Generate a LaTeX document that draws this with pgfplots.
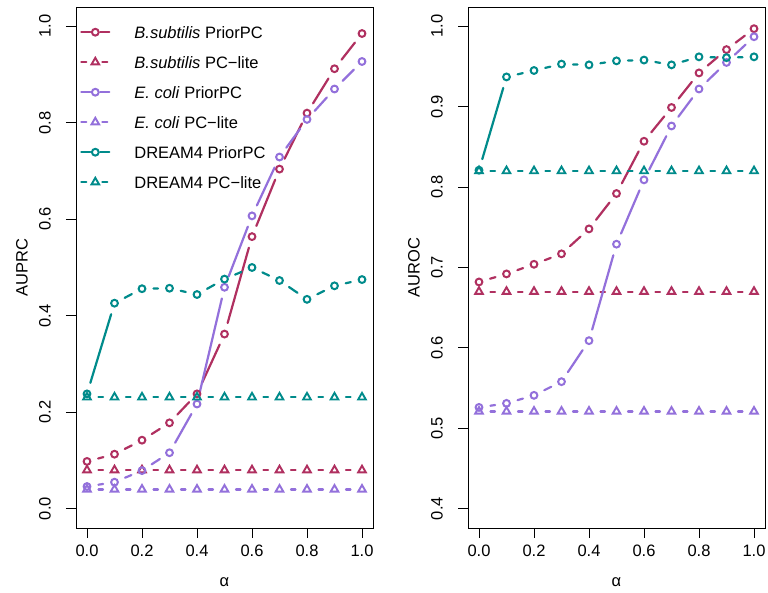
\documentclass[border=0pt]{standalone}
\usepackage{fontspec}
\setmainfont{Liberation Sans}
\usepackage{pgfplots}
\pgfplotsset{compat=1.18}
\usepackage{pgfplotstable}
\usetikzlibrary{decorations.pathreplacing,calc}

\definecolor{bsub}{HTML}{B03060}
\definecolor{ecoli}{HTML}{9370DB}
\definecolor{dream}{HTML}{008B8B}

\newcommand\lbl{\fontsize{16.5}{19}\selectfont}

% R type="b": each segment stops short of the two points it joins
\tikzset{gapline/.style={decorate, decoration={show path construction,
  lineto code={\draw[#1]
    ($(\tikzinputsegmentfirst)!11.5pt!(\tikzinputsegmentlast)$) --
    ($(\tikzinputsegmentlast)!11.5pt!(\tikzinputsegmentfirst)$);}}}}

\pgfplotsset{
  rpanel/.style={
    scale only axis, width=297pt, height=521pt,
    xmin=-0.04, xmax=1.04,
    xtick={0,0.2,0.4,0.6,0.8,1},
    xtick pos=bottom, ytick pos=left,
    tick align=outside, major tick length=10pt,
    axis line style={line width=0.9pt},
    every tick/.style={black, line width=0.9pt},
    scaled ticks=false,
    /pgf/number format/assume math mode=true,
    /pgf/number format/fixed, /pgf/number format/fixed zerofill,
    /pgf/number format/precision=1,
    tick label style={font=\lbl},
    xticklabel style={anchor=center},
    yticklabel style={rotate=90, anchor=center},
    xticklabel shift=13pt, yticklabel shift=21pt,
    every axis x label/.style={at={(axis description cs:0.5,-0.1036)}, anchor=center, font=\lbl},
    every axis y label/.style={at={(axis description cs:-0.182,0.5)}, rotate=90, anchor=center, font=\lbl},
    xlabel={α},
  },
  pline/.style={forget plot, no markers, gapline={#1, line width=2.2pt, line cap=round}},
  lline/.style={forget plot, no markers, gapline={#1, line width=2.2pt, line cap=round, dash pattern=on 8pt off 8pt}},
  pmark/.style={#1, forget plot, only marks, mark=o, mark size=3.4pt, mark options={line width=2pt}},
  tmark/.style={#1, forget plot, only marks, mark=triangle, mark size=4.4pt, mark options={line width=1.9pt}},
  priorleg/.style={#1, line width=2.2pt, line cap=round, mark=o, mark size=3.4pt,
    mark options={solid, line width=2pt},
    legend image code/.code={\draw[mark=none] (1pt,0pt) -- (10pt,0pt);
      \draw[mark=none] (20pt,0pt) -- (29pt,0pt);
      \draw plot coordinates {(15pt,0pt)};}},
  liteleg/.style={#1, line width=2.2pt, line cap=round, mark=triangle, mark size=4.4pt,
    mark options={solid, line width=1.9pt},
    legend image code/.code={\draw[mark=none] (1pt,0pt) -- (6pt,0pt);
      \draw[mark=none] (22pt,0pt) -- (27pt,0pt);
      \draw plot coordinates {(15pt,0pt)};}},
}

\pgfplotstableread{
x    bsp    bsl   ecp    ecl   dp     dl
0.0  0.098  0.08  0.046  0.04  0.238  0.231
0.1  0.113  0.08  0.055  0.04  0.426  0.231
0.2  0.142  0.08  0.079  0.04  0.456  0.231
0.3  0.178  0.08  0.116  0.04  0.457  0.231
0.4  0.238  0.08  0.217  0.04  0.444  0.231
0.5  0.362  0.08  0.459  0.04  0.476  0.231
0.6  0.564  0.08  0.607  0.04  0.500  0.231
0.7  0.704  0.08  0.729  0.04  0.473  0.231
0.8  0.820  0.08  0.807  0.04  0.434  0.231
0.9  0.912  0.08  0.870  0.04  0.462  0.231
1.0  0.985  0.08  0.927  0.04  0.475  0.231
}\auprc

\pgfplotstableread{
x    bsp    bsl    ecp    ecl    dp     dl
0.0  0.682  0.670  0.526  0.521  0.821  0.820
0.1  0.692  0.670  0.531  0.521  0.937  0.820
0.2  0.704  0.670  0.541  0.521  0.945  0.820
0.3  0.717  0.670  0.558  0.521  0.953  0.820
0.4  0.748  0.670  0.609  0.521  0.952  0.820
0.5  0.792  0.670  0.729  0.521  0.957  0.820
0.6  0.857  0.670  0.809  0.521  0.958  0.820
0.7  0.899  0.670  0.876  0.521  0.952  0.820
0.8  0.942  0.670  0.922  0.521  0.962  0.820
0.9  0.971  0.670  0.955  0.521  0.961  0.820
1.0  0.997  0.670  0.987  0.521  0.962  0.820
}\auroc

\begin{document}
\begin{tikzpicture}
\useasboundingbox (-76pt,-65pt) rectangle (692pt,528pt);

\begin{axis}[rpanel, at={(0pt,0pt)},
  ymin=-0.04, ymax=1.04, ytick={0,0.2,0.4,0.6,0.8,1},
  ylabel={AUPRC},
  legend cell align=left,
  legend style={draw=none, fill=none, inner sep=0pt, row sep=18pt, column sep=24pt,
    at={(axis description cs:0.0135,0.9635)}, anchor=north west,
    nodes={inner sep=0pt, text height=12pt, text depth=0pt, font=\lbl}},
]
\addplot[pline=bsub] table[x=x, y=bsp] {\auprc};
\addplot[pmark=bsub] table[x=x, y=bsp] {\auprc};
\addplot[lline=bsub] table[x=x, y=bsl] {\auprc};
\addplot[tmark=bsub] table[x=x, y=bsl] {\auprc};
\addplot[pline=ecoli] table[x=x, y=ecp] {\auprc};
\addplot[pmark=ecoli] table[x=x, y=ecp] {\auprc};
\addplot[lline=ecoli] table[x=x, y=ecl] {\auprc};
\addplot[tmark=ecoli] table[x=x, y=ecl] {\auprc};
\addplot[pline=dream] table[x=x, y=dp] {\auprc};
\addplot[pmark=dream] table[x=x, y=dp] {\auprc};
\addplot[lline=dream] table[x=x, y=dl] {\auprc};
\addplot[tmark=dream] table[x=x, y=dl] {\auprc};

\addlegendimage{priorleg=bsub}
\addlegendentry{\textit{B.subtilis} PriorPC}
\addlegendimage{liteleg=bsub}
\addlegendentry{\textit{B.subtilis} PC−lite}
\addlegendimage{priorleg=ecoli}
\addlegendentry{\textit{E. coli} PriorPC}
\addlegendimage{liteleg=ecoli}
\addlegendentry{\textit{E. coli} PC−lite}
\addlegendimage{priorleg=dream}
\addlegendentry{DREAM4 PriorPC}
\addlegendimage{liteleg=dream}
\addlegendentry{DREAM4 PC−lite}
\end{axis}

\begin{axis}[rpanel, at={(392pt,0pt)},
  ymin=0.376, ymax=1.024, ytick={0.4,0.5,0.6,0.7,0.8,0.9,1},
  ylabel={AUROC},
]
\addplot[pline=bsub] table[x=x, y=bsp] {\auroc};
\addplot[pmark=bsub] table[x=x, y=bsp] {\auroc};
\addplot[lline=bsub] table[x=x, y=bsl] {\auroc};
\addplot[tmark=bsub] table[x=x, y=bsl] {\auroc};
\addplot[pline=ecoli] table[x=x, y=ecp] {\auroc};
\addplot[pmark=ecoli] table[x=x, y=ecp] {\auroc};
\addplot[lline=ecoli] table[x=x, y=ecl] {\auroc};
\addplot[tmark=ecoli] table[x=x, y=ecl] {\auroc};
\addplot[pline=dream] table[x=x, y=dp] {\auroc};
\addplot[pmark=dream] table[x=x, y=dp] {\auroc};
\addplot[lline=dream] table[x=x, y=dl] {\auroc};
\addplot[tmark=dream] table[x=x, y=dl] {\auroc};
\end{axis}
\end{tikzpicture}
\end{document}
